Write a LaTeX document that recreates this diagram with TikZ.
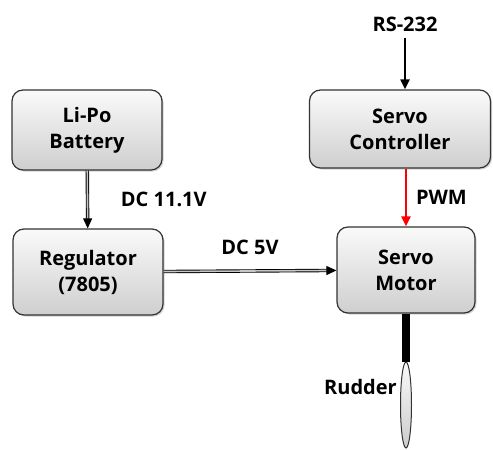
\documentclass[tikz,border=0pt]{standalone}
\usepackage{fontspec}
\setmainfont{Open Sans}
\usepackage{tikz}
\usetikzlibrary{arrows.meta,positioning,shapes.geometric,calc,shadows}

\begin{document}
\begin{tikzpicture}[
    x=1pt, y=-1pt,
    block/.style={rectangle, rounded corners=11pt, draw=black!80, line width=1.2pt, top color=gray!4, bottom color=gray!38, drop shadow={shadow xshift=1.5pt, shadow yshift=-1.5pt, opacity=0.35}, align=center, font=\fontsize{20}{26}\selectfont\bfseries, inner sep=0pt},
    lbl/.style={font=\fontsize{20}{22}\selectfont\bfseries, inner sep=0pt},
    arrow/.style={-{Triangle[length=10pt,width=9pt]}, line width=2pt},
    dblarrow/.style={-{Triangle[length=10pt,width=9pt]}, line width=0.9pt, double=gray!45, double distance=1.6pt},
    shaft/.style={line width=8pt}
]
\useasboundingbox (0,0) rectangle (493,450);
\node[block, minimum width=150pt, minimum height=80pt] (battery) at (87,130) {Li-Po\\Battery};
\node[block, minimum width=150pt, minimum height=86pt] (regulator) at (88,272) {Regulator\\(7805)};
\node[block, minimum width=181pt, minimum height=78pt] (controller) at (400,129) {Servo\\Controller};
\node[block, minimum width=138pt, minimum height=86pt] (motor) at (406,270) {Servo\\Motor};
\node[lbl] (rs) at (405,24) {RS-232};
\node[ellipse, draw=black!80, line width=1pt, top color=gray!5, bottom color=gray!40, minimum width=11pt, minimum height=86pt, inner sep=0pt] (rudder) at (406,405) {};
\node[lbl, left=3pt of rudder, yshift=18pt] (rudderlbl) {Rudder};
% connectors
\draw[arrow] (rs.south) ++(0,6) -- (rs.south |- controller.north);
\draw[dblarrow] (battery) -- (regulator) node[lbl, midway, right=33pt] {DC 11.1V};
\draw[dblarrow] (regulator) -- (motor) node[lbl, midway, above=16pt] {DC 5V};
\draw[arrow, red] (controller.south -| motor) -- (motor.north) node[lbl, black, midway, right=9pt] {PWM};
\draw[shaft] (motor.south) -- (rudder.north);
\end{tikzpicture}
\end{document}
